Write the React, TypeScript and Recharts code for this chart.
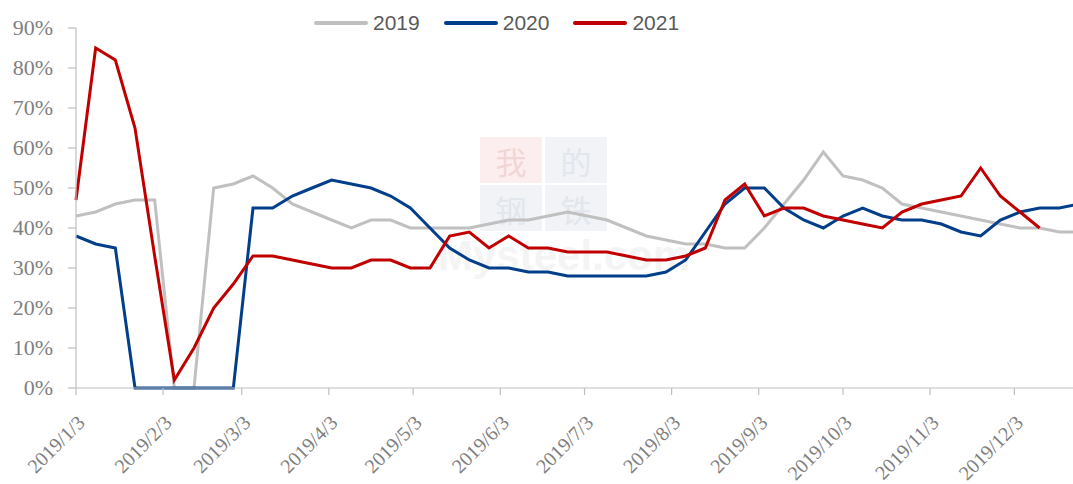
import React from 'react';
import { LineChart, Line, XAxis, YAxis, Legend } from 'recharts';

// weekly readings, one value per week starting 2019/1/3
const s2019 = [43, 44, 46, 47, 47, 0, 0, 50, 51, 53, 50, 46, 44, 42, 40, 42, 42, 40, 40, 40, 40, 41, 42, 42, 43, 44, 43, 42, 40, 38, 37, 36, 36, 35, 35, 40, 46, 52, 59, 53, 52, 50, 46, 45, 44, 43, 42, 41, 40, 40, 39, 39];
const s2020 = [38, 36, 35, 0, 0, 0, 0, 0, 0, 45, 45, 48, 50, 52, 51, 50, 48, 45, 40, 35, 32, 30, 30, 29, 29, 28, 28, 28, 28, 28, 29, 32, 39, 46, 50, 50, 45, 42, 40, 43, 45, 43, 42, 42, 41, 39, 38, 42, 44, 45, 45, 46];
const s2021 = [47, 85, 82, 65, 33, 2, 10, 20, 26, 33, 33, 32, 31, 30, 30, 32, 32, 30, 30, 38, 39, 35, 38, 35, 35, 34, 34, 34, 33, 32, 32, 33, 35, 47, 51, 43, 45, 45, 43, 42, 41, 40, 44, 46, 47, 48, 55, 48, 44, 40];

const tickLabels = ['2019/1/3', '2019/2/3', '2019/3/3', '2019/4/3', '2019/5/3', '2019/6/3', '2019/7/3', '2019/8/3', '2019/9/3', '2019/10/3', '2019/11/3', '2019/12/3'];
const yTicks = [0, 10, 20, 30, 40, 50, 60, 70, 80, 90];

const series = [
  { key: 'y2019', name: '2019', color: '#C0C0C0' },
  { key: 'y2020', name: '2020', color: '#023E8A' },
  { key: 'y2021', name: '2021', color: '#C00000' },
];

const DAY = 86400000;
const start = Date.UTC(2019, 0, 3);
const toDay = (s: string) => {
  const [y, m, d] = s.split('/').map(Number);
  return Math.round((Date.UTC(y, m - 1, d) - start) / DAY);
};
const xTicks = tickLabels.map(toDay);

const data = s2019.map((v, i) => ({
  day: i * 7,
  y2019: v,
  y2020: s2020[i],
  y2021: i < s2021.length ? s2021[i] : null,
}));

const SERIF = "'Liberation Serif', 'Times New Roman', serif";
const SANS = "'Liberation Sans', Arial, sans-serif";

const XTick: React.FC<any> = ({ x, y, payload }) => {
  const idx = xTicks.indexOf(payload.value);
  const ax = x + 10;
  const ay = y + 29;
  return (
    <text x={ax} y={ay} transform={`rotate(-45 ${ax} ${ay})`} textAnchor="end" fill="#808080" fontSize={20} style={{ fontFamily: SERIF }}>
      {idx >= 0 ? tickLabels[idx] : ''}
    </text>
  );
};

const YTick: React.FC<any> = ({ x, y, payload }) => (
  <text x={x} y={y} dy={7} textAnchor="end" fill="#808080" fontSize={22} style={{ fontFamily: SERIF }}>
    {`${payload.value}%`}
  </text>
);

const LegendBox: React.FC = () => (
  <div style={{ display: 'flex', alignItems: 'center', fontFamily: SANS, fontSize: 21, color: '#595959' }}>
    {series.map((s) => (
      <div key={s.key} style={{ display: 'flex', alignItems: 'center', marginRight: 24 }}>
        <span style={{ display: 'inline-block', width: 54, height: 4, background: s.color, borderRadius: 2, marginRight: 5 }} />
        <span>{s.name}</span>
      </div>
    ))}
  </div>
);

// faint site watermark behind the plot
const Watermark: React.FC = () => {
  const cell = (ch: string, bg: string, fg: string) => (
    <div style={{ width: 62, height: 46, background: bg, color: fg, display: 'flex', alignItems: 'center', justifyContent: 'center' }}>
      <span style={{ fontSize: 31, lineHeight: 1, fontFamily: "'Noto Sans CJK SC', serif" }}>{ch}</span>
    </div>
  );
  return (
    <div style={{ position: 'absolute', left: 480, top: 137 }}>
      <div style={{ display: 'flex', gap: 3, marginBottom: 2 }}>
        {cell('我', '#FCEEEE', '#F2D6D6')}
        {cell('的', '#F1F3F7', '#E2E6ED')}
      </div>
      <div style={{ display: 'flex', gap: 3 }}>
        {cell('钢', '#F1F3F7', '#E2E6ED')}
        {cell('铁', '#F1F3F7', '#E2E6ED')}
      </div>
      <div style={{ position: 'absolute', left: -42, top: 98, fontSize: 42, lineHeight: 1, fontFamily: SANS, fontWeight: 700, color: '#F4F4F4', whiteSpace: 'nowrap' }}>Mysteel.com</div>
    </div>
  );
};

export default function App() {
  return (
    <div style={{ position: 'relative', width: 1073, height: 484, overflow: 'hidden', background: '#fff' }}>
      <style>{'body{margin:0}'}</style>
      <Watermark />
      <div style={{ position: 'absolute', left: 0, top: 0 }}>
        <LineChart width={1079} height={484} data={data} margin={{ top: 28, right: 0, bottom: 6, left: 0 }}>
          <XAxis
            dataKey="day"
            type="number"
            domain={[0, 357]}
            ticks={xTicks}
            interval={0}
            tick={<XTick />}
            tickSize={7}
            tickMargin={0}
            height={90}
            axisLine={{ stroke: '#BFBFBF', strokeWidth: 1.2 }}
            tickLine={{ stroke: '#BFBFBF', strokeWidth: 1.2 }}
          />
          <YAxis
            domain={[0, 90]}
            ticks={yTicks}
            interval={0}
            width={76}
            tickSize={8}
            tickMargin={15}
            tick={<YTick />}
            axisLine={{ stroke: '#BFBFBF', strokeWidth: 1.2 }}
            tickLine={{ stroke: '#BFBFBF', strokeWidth: 1.2 }}
          />
          <Legend
            layout="horizontal"
            verticalAlign="middle"
            align="center"
            content={<LegendBox />}
            wrapperStyle={{ top: 11, left: 314, width: 420, height: 30 }}
          />
          {series.map((s) => (
            <Line
              key={s.key}
              type="linear"
              dataKey={s.key}
              name={s.name}
              stroke={s.color}
              strokeWidth={3}
              dot={false}
              activeDot={false}
              isAnimationActive={false}
            />
          ))}
        </LineChart>
      </div>
    </div>
  );
}
